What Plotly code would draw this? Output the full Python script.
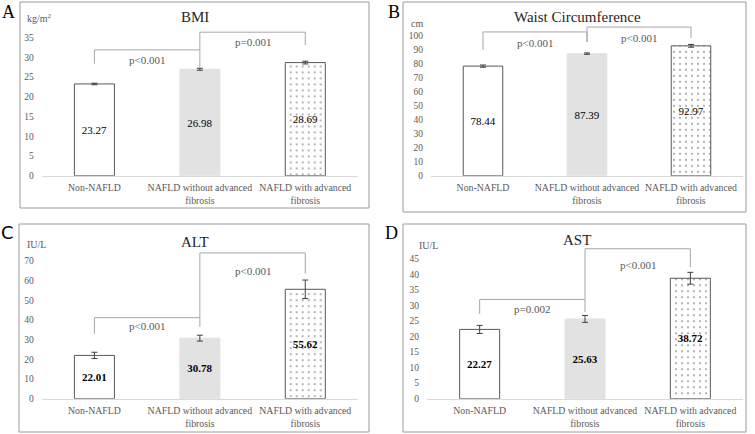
import plotly.graph_objects as go

W, H = 755, 434

categories = ["Non-NAFLD", "NAFLD without advanced<br>fibrosis", "NAFLD with advanced<br>fibrosis"]

# ---- data ----
bmi_values = [23.27, 26.98, 28.69]
bmi_errors = [0.2, 0.25, 0.35]
waist_values = [78.44, 87.39, 92.97]
waist_errors = [0.8, 0.5, 1.0]
alt_values = [22.01, 30.78, 55.62]
alt_errors = [1.6, 1.5, 4.7]
ast_values = [22.27, 25.63, 38.72]
ast_errors = [1.3, 1.1, 1.9]

# brackets: (left cat, right cat, top y, left leg end y, right leg end y)
bmi_brackets = [(0, 1, 31.9, 28.4, 27.3), (1, 2, 36.4, 31.9, 33.1)]
bmi_pvals = ["p<0.001", "p=0.001"]
bmi_pval_y = [29.4, 33.8]
waist_brackets = [(0, 1, 102.9, 90.0, 95.7), (1, 2, 106.4, 95.7, 98.6)]
waist_pvals = ["p<0.001", "p<0.001"]
waist_pval_y = [95.0, 98.6]
alt_brackets = [(0, 1, 41.2, 33.0, 36.5), (1, 2, 74.1, 41.2, 63.6)]
alt_pvals = ["p<0.001", "p<0.001"]
alt_pval_y = [36.9, 64.9]
ast_brackets = [(0, 1, 31.9, 27.3, 27.9), (1, 2, 48.2, 31.9, 42.3)]
ast_pvals = ["p=0.002", "p<0.001"]
ast_pval_y = [28.9, 43.1]

titles = ["BMI", "Waist Circumference", "ALT", "AST"]
units = ["kg/m<sup>2</sup>", "cm", "IU/L", "IU/L"]
letters = ["A", "B", "C", "D"]
tick_steps = [5, 10, 10, 5]
tick_tops = [35, 100, 70, 45]

# ---- layout geometry (pixels) ----
panels = [
    dict(vals=bmi_values, errs=bmi_errors, br=bmi_brackets, pv=bmi_pvals, pvy=bmi_pval_y,
         x0=41.7, x1=358, y0=175.7, ytick_px=37.7, rtop=37.6, bold=False,
         box=(20, 2, 369, 208), title_xy=(195, 17), unit_xy=(25, 18), letter_xy=(8, 12),
         letter_font="Liberation Serif"),
    dict(vals=waist_values, errs=waist_errors, br=waist_brackets, pv=waist_pvals, pvy=waist_pval_y,
         x0=431, x1=743, y0=175.7, ytick_px=36, rtop=108, bold=False,
         box=(403, 2, 746, 212), title_xy=(577, 17), unit_xy=(409, 23), letter_xy=(394, 12),
         letter_font="Liberation Serif"),
    dict(vals=alt_values, errs=alt_errors, br=alt_brackets, pv=alt_pvals, pvy=alt_pval_y,
         x0=41.7, x1=358, y0=398.7, ytick_px=261, rtop=76, bold=True,
         box=(19, 224, 369, 432), title_xy=(195, 242), unit_xy=(25, 244), letter_xy=(7, 232),
         letter_font="DejaVu Sans"),
    dict(vals=ast_values, errs=ast_errors, br=ast_brackets, pv=ast_pvals, pvy=ast_pval_y,
         x0=427, x1=743, y0=398.7, ytick_px=258.7, rtop=49, bold=True,
         box=(403, 224, 746, 432), title_xy=(577, 240), unit_xy=(417, 245), letter_xy=(391, 233),
         letter_font="Liberation Serif"),
]

SERIF = "Liberation Serif"
TXT = "#595959"

fig = go.Figure()
layout = dict(width=W, height=H, margin=dict(l=0, r=0, t=0, b=0, pad=0, autoexpand=False),
              paper_bgcolor="white", plot_bgcolor="white", showlegend=False,
              shapes=[], annotations=[])

def px(x):
    return x / W

def py(y):
    return 1 - y / H

for i, p in enumerate(panels):
    n = "" if i == 0 else str(i + 1)
    xa, ya = "x" + n, "y" + n
    scale = (p["y0"] - p["ytick_px"]) / tick_tops[i]
    top_px = p["y0"] - p["rtop"] * scale

    fmt = "<b>%{y:.2f}</b>" if p["bold"] else "%{y:.2f}"
    fig.add_trace(go.Bar(
        x=[0, 1, 2], y=p["vals"], xaxis=xa, yaxis=ya, width=0.38,
        marker=dict(color=["white", "#e2e2e2", "white"],
                    line=dict(color=["#595959", "#e2e2e2", "#595959"], width=1),
                    pattern=dict(shape=["", "", "."], fgcolor="#9a9a9a",
                                 bgcolor=["white", "#e2e2e2", "white"], size=6, solidity=0.1)),
        error_y=dict(type="data", array=p["errs"], color="#404040", thickness=1, width=3),
        texttemplate=fmt, textposition="inside", insidetextanchor="middle", textangle=0,
        textfont=dict(family=SERIF, size=11, color="black"), constraintext="none",
        hoverinfo="skip"))

    layout["xaxis" + n] = dict(domain=[px(p["x0"]), px(p["x1"])], anchor=ya, range=[-0.5, 2.5],
                               tickvals=[0, 1, 2], ticktext=categories, showline=True,
                               linecolor="#d9d9d9", linewidth=1, ticks="", showgrid=False,
                               zeroline=False, tickangle=0, automargin=False,
                               ticklabelstandoff=3,
                               tickfont=dict(family=SERIF, size=9.8, color=TXT),
                               fixedrange=True)
    layout["yaxis" + n] = dict(domain=[py(p["y0"]), py(top_px)], anchor=xa, range=[0, p["rtop"]],
                               tickvals=list(range(0, tick_tops[i] + 1, tick_steps[i])),
                               showline=False, showgrid=False, zeroline=False, ticks="",
                               automargin=False,
                               tickfont=dict(family=SERIF, size=9.5, color=TXT),
                               ticklabelstandoff=7, fixedrange=True)

    for (a, b, yt, yl, yr), txt, ty in zip(p["br"], p["pv"], p["pvy"]):
        for (xx0, yy0, xx1, yy1) in [(a, yl, a, yt), (a, yt, b, yt), (b, yt, b, yr)]:
            layout["shapes"].append(dict(type="line", xref=xa, yref=ya, x0=xx0, y0=yy0,
                                         x1=xx1, y1=yy1, line=dict(color="#a6a6a6", width=1)))
        layout["annotations"].append(dict(xref=xa, yref=ya, x=(a + b) / 2, y=ty, text=txt,
                                          xanchor="center", yanchor="middle", showarrow=False,
                                          font=dict(family=SERIF, size=11, color=TXT)))

    bx0, by0, bx1, by1 = p["box"]
    layout["shapes"].append(dict(type="rect", xref="paper", yref="paper", x0=px(bx0), y0=py(by0),
                                 x1=px(bx1), y1=py(by1), line=dict(color="#9a9a9a", width=1)))
    tx, ty = p["title_xy"]
    layout["annotations"].append(dict(xref="paper", yref="paper", x=px(tx), y=py(ty), text=titles[i],
                                      xanchor="center", yanchor="middle", showarrow=False,
                                      font=dict(family=SERIF, size=15, color="#262626")))
    ux, uy = p["unit_xy"]
    layout["annotations"].append(dict(xref="paper", yref="paper", x=px(ux), y=py(uy), text=units[i],
                                      xanchor="left", yanchor="middle", showarrow=False,
                                      font=dict(family=SERIF, size=10, color=TXT)))
    lx, ly = p["letter_xy"]
    layout["annotations"].append(dict(xref="paper", yref="paper", x=px(lx), y=py(ly), text=letters[i],
                                      xanchor="center", yanchor="middle", showarrow=False,
                                      font=dict(family=p["letter_font"], size=18, color="black")))

fig.update_layout(**layout)
fig.write_html("out.html", config={"displayModeBar": False},
               post_script="document.body.style.margin='0';")
